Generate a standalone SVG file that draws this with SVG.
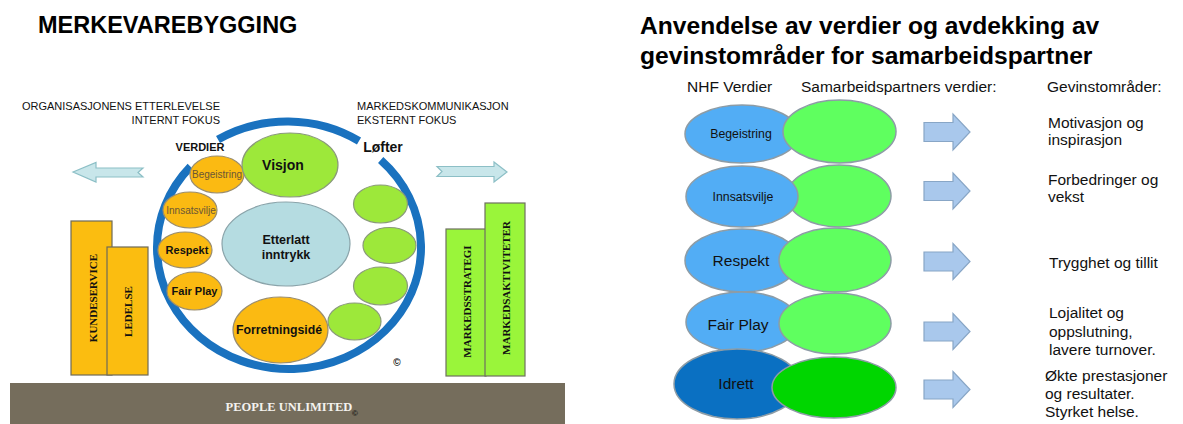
<svg xmlns="http://www.w3.org/2000/svg" width="1183" height="424" viewBox="0 0 1183 424">
<style>
text{font-family:"Liberation Sans",Arial,sans-serif;}
.serif{font-family:"Liberation Serif","Times New Roman",serif;font-weight:bold;}
.or{fill:#fbba12;stroke:#9a8d6e;stroke-width:1.2;}
.lg{fill:#9de83a;stroke:#8a9a7a;stroke-width:1.2;}
.bar-y{fill:#fbbd10;stroke:#6e6a58;stroke-width:1.2;}
.bar-g{fill:#9af53a;stroke:#6e7060;stroke-width:1.2;}
.blu{fill:#52adf5;stroke:#8d9ca6;stroke-width:1.5;}
.grn{fill:#5fff5f;stroke:#8d9ca6;stroke-width:1.5;}
.barrow{fill:#a9c8ec;stroke:#88a6c6;stroke-width:1.2;}
.carrow{fill:#c8e6ea;stroke:#8cbfc6;stroke-width:1.2;}
.ring{fill:none;stroke:#1a72bf;stroke-width:8;}
.b{font-weight:bold;}
.rt{font-size:15.5px;fill:#111;}
</style>

<!-- LEFT PANEL -->
<text x="38" y="33" class="b" font-size="23.5" fill="#000">MERKEVAREBYGGING</text>
<text x="220" y="110" font-size="11" text-anchor="end" fill="#111">ORGANISASJONENS ETTERLEVELSE</text>
<text x="220" y="124" font-size="11" text-anchor="end" fill="#111">INTERNT FOKUS</text>
<text x="357" y="110" font-size="11" fill="#111">MARKEDSKOMMUNIKASJON</text>
<text x="357" y="124" font-size="11" fill="#111">EKSTERNT FOKUS</text>

<g id="ring">
<path class="ring" d="M218,139.5 A132,121.5 0 0 1 359,141"/>
<path class="ring" d="M380.7,160.1 A132,121.5 0 1 1 190.5,166.6"/>
</g>

<text x="200" y="151" class="b" font-size="11" text-anchor="middle" fill="#111">VERDIER</text>
<text x="383" y="152" class="b" font-size="14" text-anchor="middle" fill="#111">Løfter</text>

<g id="kundeservice">
<rect class="bar-y" x="71" y="221" width="41" height="154"/>
<text class="serif" font-size="11" text-anchor="middle" transform="translate(97,298) rotate(-90)" fill="#111">KUNDESERVICE</text>
</g>
<g id="ledelse">
<rect class="bar-y" x="107" y="247" width="41" height="128"/>
<text class="serif" font-size="11" text-anchor="middle" transform="translate(132,311.5) rotate(-90)" fill="#111">LEDELSE</text>
</g>
<g id="markedsstrategi">
<rect class="bar-g" x="446" y="229" width="40" height="147"/>
<text class="serif" font-size="11" text-anchor="middle" transform="translate(471,301.5) rotate(-90)" fill="#111">MARKEDSSTRATEGI</text>
</g>
<g id="markedsaktiviteter">
<rect class="bar-g" x="485" y="203" width="40" height="173"/>
<text class="serif" font-size="11" text-anchor="middle" transform="translate(510,288) rotate(-90)" fill="#111">MARKEDSAKTIVITETER</text>
</g>

<g id="begeistring-l">
<ellipse class="or" cx="217" cy="174.5" rx="27" ry="18.5"/>
<text x="217" y="178" font-size="10" text-anchor="middle" fill="#6a5636">Begeistring</text>
</g>
<g id="innsatsvilje-l">
<ellipse class="or" cx="190" cy="210" rx="27" ry="18"/>
<text x="191" y="213.5" font-size="10" text-anchor="middle" fill="#6a5636">Innsatsvilje</text>
</g>
<g id="respekt-l">
<ellipse class="or" cx="185" cy="250" rx="27" ry="18"/>
<text x="187" y="254" class="b" font-size="11" text-anchor="middle" fill="#111">Respekt</text>
</g>
<g id="fairplay-l">
<ellipse class="or" cx="194.5" cy="291" rx="27.5" ry="19"/>
<text x="194.5" y="295" class="b" font-size="11" text-anchor="middle" fill="#111">Fair Play</text>
</g>
<g id="visjon">
<ellipse class="lg" cx="290" cy="165" rx="48" ry="32"/>
<text x="283" y="170" class="b" font-size="14" text-anchor="middle" fill="#111">Visjon</text>
</g>
<g id="etterlatt">
<ellipse cx="286" cy="244" rx="64" ry="42" fill="#b5dce1" stroke="#8aa4aa" stroke-width="1.2"/>
<text x="286" y="244" class="b" font-size="12.5" text-anchor="middle" fill="#111">Etterlatt</text>
<text x="286" y="259" class="b" font-size="12.5" text-anchor="middle" fill="#111">inntrykk</text>
</g>
<g id="forretningside">
<ellipse class="or" cx="280.5" cy="330" rx="47.5" ry="33"/>
<text x="279" y="334" class="b" font-size="12.3" text-anchor="middle" fill="#111">Forretningsidé</text>
</g>
<g id="lofte1"><ellipse class="lg" cx="380.5" cy="204" rx="27" ry="19"/></g>
<g id="lofte2"><ellipse class="lg" cx="389.5" cy="245.5" rx="26.5" ry="18"/></g>
<g id="lofte3"><ellipse class="lg" cx="380.5" cy="286" rx="27" ry="19"/></g>
<g id="lofte4"><ellipse class="lg" cx="354.5" cy="321.5" rx="26.5" ry="18.5"/></g>

<text x="397" y="366" class="b" font-size="10" text-anchor="middle" fill="#111">©</text>

<g id="people-unlimited">
<rect x="10" y="383" width="555" height="41" fill="#756d5c"/>
<text x="289" y="411" class="serif" font-size="12.5" text-anchor="middle" fill="#f4f2ee">PEOPLE UNLIMITED</text>
<text x="355" y="416" class="b" font-size="8" text-anchor="middle" fill="#111">©</text>
</g>

<!-- RIGHT PANEL -->
<text x="640" y="34" class="b" font-size="24.6" fill="#000">Anvendelse av verdier og avdekking av</text>
<text x="640" y="64" class="b" font-size="24.6" fill="#000">gevinstområder for samarbeidspartner</text>
<text x="687" y="92" class="rt">NHF Verdier</text>
<text x="801" y="92" class="rt">Samarbeidspartners verdier:</text>
<text x="1047" y="92" class="rt">Gevinstområder:</text>

<g id="row1">
<ellipse class="blu" cx="742" cy="134" rx="57" ry="29"/>
<ellipse class="grn" cx="839.5" cy="131.5" rx="56.5" ry="31.5"/>
<text x="741" y="138" font-size="12.3" text-anchor="middle" fill="#111">Begeistring</text>
</g>
<g id="row2">
<ellipse class="grn" cx="839" cy="196" rx="52" ry="31"/>
<ellipse class="blu" cx="742" cy="196.5" rx="56" ry="30.5"/>
<text x="743" y="201" font-size="12.3" text-anchor="middle" fill="#111">Innsatsvilje</text>
</g>
<g id="row3">
<ellipse class="blu" cx="742" cy="260.5" rx="57" ry="31.5"/>
<ellipse class="grn" cx="835" cy="260" rx="56" ry="32"/>
<text x="741" y="266" font-size="15.5" text-anchor="middle" fill="#111">Respekt</text>
</g>
<g id="row4">
<ellipse class="blu" cx="742" cy="322" rx="56" ry="30"/>
<ellipse class="grn" cx="835" cy="323.5" rx="56" ry="30.5"/>
<text x="738" y="330" font-size="15.5" text-anchor="middle" fill="#111">Fair Play</text>
</g>
<g id="row5">
<ellipse cx="737" cy="384" rx="63" ry="35" fill="#0a70c2" stroke="#8d9ca6" stroke-width="1.5"/>
<ellipse cx="834" cy="387.5" rx="62" ry="30.5" fill="#00d600" stroke="#8d9ca6" stroke-width="1.5"/>
<text x="736" y="389" font-size="15.5" text-anchor="middle" fill="#111">Idrett</text>
</g>

<g id="connectors">
<path class="carrow" d="M73,172 L96,162.5 L96,168 L143,168 L138,172.5 L143,177 L96,177 L96,182 Z"/>
<path class="carrow" d="M437,166.5 L494,166.5 L494,162 L507,172 L494,182 L494,176.5 L437,176.5 L442,171.5 Z"/>
<path class="barrow" d="M924,122.5 L953,122.5 L953,114 L970,132 L953,150 L953,141.5 L924,141.5 Z"/>
<path class="barrow" d="M924,181.5 L953,181.5 L953,173 L970,191 L953,209 L953,200.5 L924,200.5 Z"/>
<path class="barrow" d="M924,252 L953,252 L953,243.5 L970,261.5 L953,279.5 L953,271 L924,271 Z"/>
<path class="barrow" d="M924,322 L953,322 L953,313.5 L970,331.5 L953,349.5 L953,341 L924,341 Z"/>
<path class="barrow" d="M924,380 L953,380 L953,371.5 L970,389.5 L953,407.5 L953,399 L924,399 Z"/>
</g>

<g id="gevinst">
<text x="1048" y="128" class="rt">Motivasjon og</text>
<text x="1048" y="145" class="rt">inspirasjon</text>
<text x="1048" y="185" class="rt">Forbedringer og</text>
<text x="1048" y="202" class="rt">vekst</text>
<text x="1049" y="268" class="rt">Trygghet og tillit</text>
<text x="1049" y="318" class="rt">Lojalitet og</text>
<text x="1049" y="337" class="rt">oppslutning,</text>
<text x="1049" y="355" class="rt">lavere turnover.</text>
<text x="1045" y="381" class="rt">Økte prestasjoner</text>
<text x="1045" y="399" class="rt">og resultater.</text>
<text x="1045" y="417" class="rt">Styrket helse.</text>
</g>
</svg>
